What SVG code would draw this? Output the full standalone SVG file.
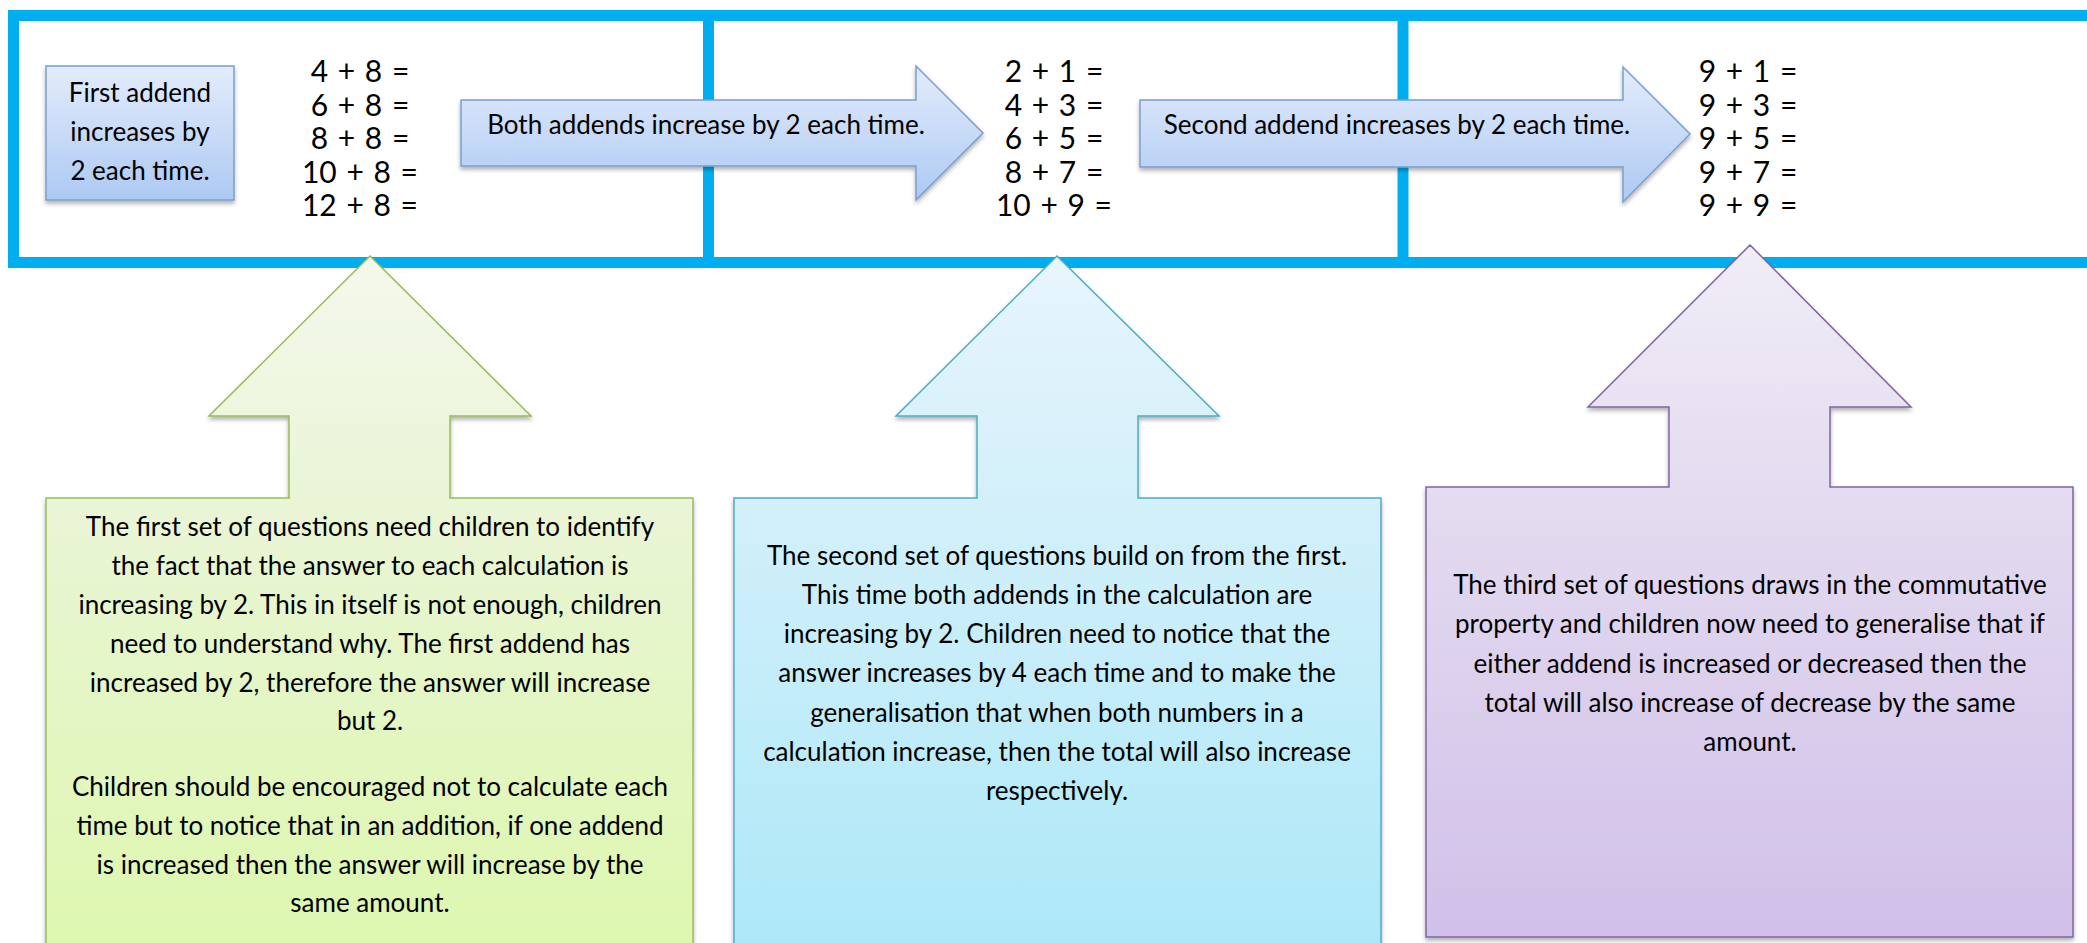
<svg xmlns="http://www.w3.org/2000/svg" width="2087" height="943" viewBox="0 0 2087 943" xml:space="preserve">
<defs>
<linearGradient id="gBlueBox" x1="0" y1="0" x2="0" y2="1">
<stop offset="0" stop-color="#e3ecfb"/><stop offset="1" stop-color="#adc9f3"/>
</linearGradient>
<linearGradient id="gGreen" x1="0" y1="0" x2="0" y2="1">
<stop offset="0" stop-color="#f4f8ec"/><stop offset="0.35" stop-color="#eaf5d6"/><stop offset="1" stop-color="#ddf7af"/>
</linearGradient>
<linearGradient id="gAqua" x1="0" y1="0" x2="0" y2="1">
<stop offset="0" stop-color="#e8f5fc"/><stop offset="0.35" stop-color="#d3f0fa"/><stop offset="1" stop-color="#ade8f8"/>
</linearGradient>
<linearGradient id="gPurple" x1="0" y1="0" x2="0" y2="1">
<stop offset="0" stop-color="#f1edf7"/><stop offset="0.35" stop-color="#e4dcf0"/><stop offset="1" stop-color="#d1c0e9"/>
</linearGradient>
<filter id="sh" x="-5%" y="-5%" width="110%" height="115%">
<feDropShadow dx="0" dy="3" stdDeviation="2" flood-color="#000" flood-opacity="0.3"/>
</filter>
<style>
.t{font-family:Lato,"Liberation Sans",sans-serif;fill:#000;text-anchor:middle;white-space:pre}
.lbl{font-size:26px}
.eq{font-size:30px;word-spacing:2px}
.body{font-size:26px}
.frame{fill:none;stroke:#00aeef;stroke-width:11}
.bbox{fill:url(#gBlueBox);stroke:#7a9ecf;stroke-width:1.5;filter:url(#sh)}
</style>
</defs>
<rect x="0" y="0" width="2087" height="943" fill="#fff"/>
<g id="frame">
<rect class="frame" x="13.5" y="15.5" width="2100" height="247"/>
<line class="frame" x1="708.5" y1="15" x2="708.5" y2="263"/>
<line class="frame" x1="1403" y1="15" x2="1403" y2="263"/>
</g>
<g id="box-first">
<rect class="bbox" x="46" y="66" width="188" height="134"/>
<text class="t lbl" x="140" y="102">First addend</text>
<text class="t lbl" x="140" y="141">increases by</text>
<text class="t lbl" x="140" y="180">2 each time.</text>
</g>
<g id="eq1" class="t eq">
<text x="360" y="82">4 + 8 =</text>
<text x="360" y="116">6 + 8 =</text>
<text x="360" y="149">8 + 8 =</text>
<text x="360" y="183">10 + 8 =</text>
<text x="360" y="216">12 + 8 =</text>
</g>
<g id="eq2" class="t eq">
<text x="1054" y="82">2 + 1 =</text>
<text x="1054" y="116">4 + 3 =</text>
<text x="1054" y="149">6 + 5 =</text>
<text x="1054" y="183">8 + 7 =</text>
<text x="1054" y="216">10 + 9 =</text>
</g>
<g id="eq3" class="t eq">
<text x="1748" y="82">9 + 1 =</text>
<text x="1748" y="116">9 + 3 =</text>
<text x="1748" y="149">9 + 5 =</text>
<text x="1748" y="183">9 + 7 =</text>
<text x="1748" y="216">9 + 9 =</text>
</g>
<g id="connectors">
<g id="arrow-both">
<path class="bbox" d="M461,100 L916,100 L916,66 L983,133 L916,200 L916,166 L461,166 Z"/>
<text class="t lbl" x="706" y="134">Both addends increase by 2 each time.</text>
</g>
<g id="arrow-second">
<path class="bbox" d="M1140,100 L1623,100 L1623,67 L1690,134 L1623,202 L1623,167 L1140,167 Z"/>
<text class="t lbl" x="1397" y="134">Second addend increases by 2 each time.</text>
</g>
</g>
<g id="callout-first">
<path d="M370,256 L531,416 L450,416 L450,498 L693,498 L693,950 L46,950 L46,498 L289,498 L289,416 L209,416 Z" fill="url(#gGreen)" stroke="#9bbb59" stroke-width="1.5" filter="url(#sh)"/>
<g class="t body">
<text x="370" y="536">The first set of questions need children to identify</text>
<text x="370" y="575">the fact that the answer to each calculation is</text>
<text x="370" y="614">increasing by 2.  This in itself is not enough, children</text>
<text x="370" y="653">need to understand why.  The first addend has</text>
<text x="370" y="692">increased by 2, therefore the answer will increase</text>
<text x="370" y="730">but 2.</text>
<text x="370" y="796">Children should be encouraged not to calculate each</text>
<text x="370" y="835">time but to notice that in an addition, if one addend</text>
<text x="370" y="874">is increased then the answer will increase by the</text>
<text x="370" y="912">same amount.</text>
</g>
</g>
<g id="callout-second">
<path d="M1057,256 L1219,416 L1138,416 L1138,498 L1381,498 L1381,950 L734,950 L734,498 L977,498 L977,416 L896,416 Z" fill="url(#gAqua)" stroke="#4bacc6" stroke-width="1.5" filter="url(#sh)"/>
<g class="t body">
<text x="1057" y="565">The second set of questions build on from the first.</text>
<text x="1057" y="604">This time both addends in the calculation are</text>
<text x="1057" y="643">increasing by 2.  Children need to notice that the</text>
<text x="1057" y="682">answer increases by 4 each time and to make the</text>
<text x="1057" y="722">generalisation that when both numbers in a</text>
<text x="1057" y="761">calculation increase, then the total will also increase</text>
<text x="1057" y="800">respectively.</text>
</g>
</g>
<g id="callout-third">
<path d="M1750,245 L1911,407 L1830,407 L1830,487 L2073,487 L2073,937 L1426,937 L1426,487 L1669,487 L1669,407 L1588,407 Z" fill="url(#gPurple)" stroke="#8064a2" stroke-width="1.5" filter="url(#sh)"/>
<g class="t body">
<text x="1750" y="594">The third set of questions draws in the commutative</text>
<text x="1750" y="633">property and children now need to generalise that if</text>
<text x="1750" y="673">either addend is increased or decreased then the</text>
<text x="1750" y="712">total will also increase of decrease by the same</text>
<text x="1750" y="751">amount.</text>
</g>
</g>
</svg>
